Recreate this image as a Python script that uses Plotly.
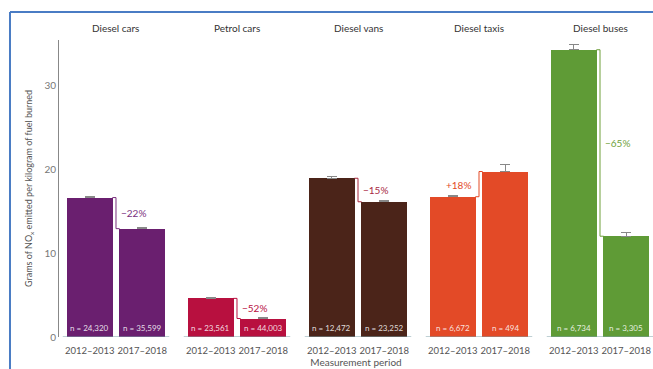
import plotly.graph_objects as go

groups = ["Diesel cars", "Petrol cars", "Diesel vans", "Diesel taxis", "Diesel buses"]
periods = ["2012–2013", "2017–2018"]
values_2012 = [16.6, 4.6, 18.9, 16.7, 34.2]
values_2017 = [12.9, 2.2, 16.1, 19.7, 12.0]
err_2012 = [0.1, 0.15, 0.15, 0.2, 0.6]
err_2017 = [0.1, 0.15, 0.15, 0.8, 0.5]
n_2012 = ["24,320", "23,561", "12,472", "6,672", "6,734"]
n_2017 = ["35,599", "44,003", "23,252", "494", "3,305"]
changes = ["−22%", "−52%", "−15%", "+18%", "−65%"]
colors = ["#6a1f6f", "#b8103f", "#4b2419", "#e34a27", "#5f9b36"]
label_colors = ["#7a2f7e", "#b8103f", "#a8283f", "#e34a27", "#6f9f3a"]

off = 0.217
width = 0.38
x1 = [i - off for i in range(len(groups))]
x2 = [i + off for i in range(len(groups))]
zeros = [0] * len(groups)

fig = go.Figure()
fig.add_trace(go.Bar(x=x1, y=values_2012, width=width, marker=dict(color=colors, line=dict(width=0)),
                     error_y=dict(type="data", symmetric=False, array=err_2012, arrayminus=zeros,
                                  color="#888", thickness=1, width=5),
                     showlegend=False, hoverinfo="y"))
fig.add_trace(go.Bar(x=x2, y=values_2017, width=width, marker=dict(color=colors, line=dict(width=0)),
                     error_y=dict(type="data", symmetric=False, array=err_2017, arrayminus=zeros,
                                  color="#888", thickness=1, width=5),
                     showlegend=False, hoverinfo="y"))

shapes = []
annotations = []
for i, g in enumerate(groups):
    annotations.append(dict(x=i, y=1.0, xref="x", yref="paper", yshift=12, text=g, showarrow=False,
                            font=dict(size=10, color="#333", family="Lato"), yanchor="middle"))
    for xx, nn in ((x1[i], n_2012[i]), (x2[i], n_2017[i])):
        annotations.append(dict(x=xx, y=0, xref="x", yref="y", yanchor="bottom", yshift=2,
                                text="n = " + nn, showarrow=False,
                                font=dict(size=8, color="rgba(255,255,255,0.85)", family="Lato")))
    shapes.append(dict(type="line", xref="x", yref="y", x0=i - 0.44, x1=i + 0.44, y0=0, y1=0,
                       line=dict(color="#7fa0a8", width=1)))
    v1, v2 = values_2012[i], values_2017[i]
    shapes.append(dict(type="path", xref="x", yref="y",
                       path=f"M {i-0.03} {v1} L {i} {v1} L {i} {v2} L {i+0.03} {v2}",
                       line=dict(color=label_colors[i], width=1)))
    mid = (v1 + v2) / 2
    if v2 > v1:
        annotations.append(dict(x=i, y=v1, xref="x", yref="y", xanchor="right", yanchor="bottom",
                                xshift=-6, yshift=4, text=changes[i], showarrow=False,
                                font=dict(size=10, color=label_colors[i], family="Lato")))
    else:
        annotations.append(dict(x=i, y=mid, xref="x", yref="y", xanchor="left", yanchor="middle",
                                xshift=3, text=changes[i], showarrow=False,
                                font=dict(size=10, color=label_colors[i], family="Lato")))

shapes.append(dict(type="line", xref="paper", yref="paper", x0=-0.0825, x1=1.05, y0=1.094, y1=1.094,
                   line=dict(color="#4a7cc4", width=2)))
shapes.append(dict(type="line", xref="paper", yref="paper", x0=-0.0825, x1=-0.0825, y0=1.094, y1=-0.2,
                   line=dict(color="#4a7cc4", width=2)))

tickvals = x1 + x2
ticktext = [periods[0]] * len(groups) + [periods[1]] * len(groups)

fig.update_layout(
    width=653, height=369,
    margin=dict(l=59, r=0, t=40, b=32),
    paper_bgcolor="white", plot_bgcolor="white",
    font=dict(family="Lato", color="#555"),
    shapes=shapes, annotations=annotations,
    bargap=0,
    xaxis=dict(range=[-0.471, 4.438], tickvals=tickvals, ticktext=ticktext, showgrid=False,
               zeroline=False, showline=False, ticks="", ticklabelstandoff=6,
               tickfont=dict(size=9.5, color="#555"),
               title=dict(text="Measurement period", font=dict(size=10, color="#555"), standoff=0)),
    yaxis=dict(range=[0, 35.36], tickvals=[0, 10, 20, 30], showgrid=False, zeroline=False,
               showline=True, linecolor="#888", linewidth=1, ticks="", ticklen=0,
               tickfont=dict(size=10, color="#777"),
               title=dict(text="Grams of NO<sub>x</sub> emitted per kilogram of fuel burned",
                          font=dict(size=9, color="#555"), standoff=10)),
)

fig.write_html("out.html")
